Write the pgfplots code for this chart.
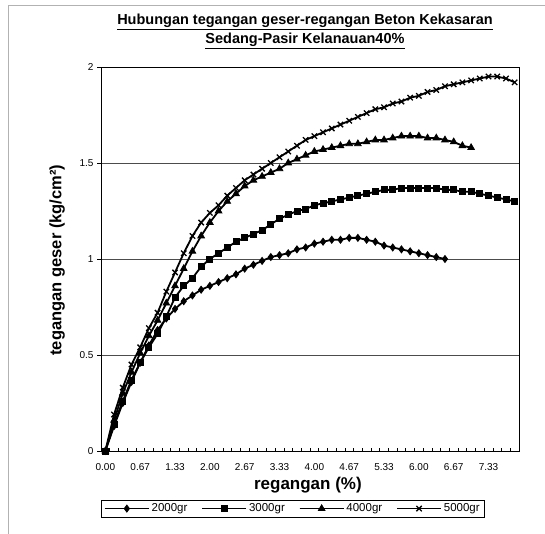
\documentclass[border=0pt]{standalone}
\usepackage{pgfplots}
\pgfplotsset{compat=1.18}
\usepackage{fontspec}
\setmainfont{Liberation Sans}

\begin{document}
\begin{tikzpicture}

\begin{axis}[
  scale only axis, width=418pt, height=384pt,
  xmin=-0.5, xmax=47.5, ymin=0, ymax=2,
  xtick={0,4,...,44},
  xticklabels={0.00,0.67,1.33,2.00,2.67,3.33,4.00,4.67,5.33,6.00,6.67,7.33},
  minor xtick={-0.5,0.5,...,47.5},
  major x tick style={draw=none},
  minor tick length=3pt,
  xtick pos=bottom, xtick align=inside,
  ytick={0,0.5,1,1.5,2},
  yticklabels={0,0.5,1,1.5,2},
  ytick pos=left, ytick align=outside, major tick length=4pt,
  ymajorgrids, grid style={black!70, line width=0.5pt},
  axis line style={black, line width=0.9pt},
  tick style={black, line width=0.6pt},
  tick label style={font=\fontsize{10}{11}\selectfont},
  xticklabel style={yshift=-9pt},
  xlabel={\textbf{regangan (\%)}},
  xlabel style={font=\fontsize{17}{19}\selectfont, at={(axis description cs:0.495,-0.0885)}, anchor=center},
  ylabel={\textbf{tegangan geser (kg/cm²)}},
  ylabel style={font=\fontsize{16.5}{18}\selectfont, at={(axis description cs:-0.105,0.497)}, anchor=center},
  title={\textbf{\underline{Hubungan tegangan geser-regangan Beton Kekasaran}}\\\textbf{\underline{Sedang-Pasir Kelanauan40\%}}},
  title style={font=\fontsize{14.5}{19}\selectfont, align=center, at={(axis description cs:0.488,1.077)}, anchor=center},
  legend columns=4,
  legend style={at={(axis description cs:0.459,-0.150)}, anchor=center, draw=black, line width=0.6pt,
    font=\fontsize{11.5}{12}\selectfont, inner xsep=3pt, inner ysep=2pt,
    /tikz/every even column/.append style={column sep=12pt}},
  legend image code/.code={
    \draw[#1, line width=1.6pt] (0pt,0pt) -- (44pt,0pt);
    \draw[#1, line width=1.6pt, mark repeat=2, mark phase=2] plot coordinates {(0pt,0pt) (22pt,0pt) (44pt,0pt)};
  },
  every axis plot/.append style={black, line width=1.8pt, mark size=3.5pt,
    mark options={solid, fill=black, line width=0.8pt}},
]
\coordinate (O) at (rel axis cs:0,0);
% 2000gr
\addplot[mark=diamond*] coordinates {
(0,0) (1,0.13) (2,0.25) (3,0.36) (4,0.46) (5,0.55) (6,0.63) (7,0.69) (8,0.74) (9,0.78)
(10,0.81) (11,0.84) (12,0.86) (13,0.88) (14,0.90) (15,0.92) (16,0.95) (17,0.97) (18,0.99) (19,1.01)
(20,1.02) (21,1.03) (22,1.05) (23,1.06) (24,1.08) (25,1.09) (26,1.10) (27,1.10) (28,1.11) (29,1.11)
(30,1.10) (31,1.09) (32,1.07) (33,1.06) (34,1.05) (35,1.04) (36,1.03) (37,1.02) (38,1.01) (39,1.00)
};
\addlegendentry{2000gr}
% 3000gr
\addplot[mark=square*, mark size=3pt] coordinates {
(0,0) (1,0.14) (2,0.26) (3,0.37) (4,0.46) (5,0.54) (6,0.61) (7,0.70) (8,0.80) (9,0.86)
(10,0.90) (11,0.96) (12,1.00) (13,1.03) (14,1.06) (15,1.09) (16,1.11) (17,1.13) (18,1.15) (19,1.18)
(20,1.21) (21,1.23) (22,1.25) (23,1.26) (24,1.28) (25,1.29) (26,1.30) (27,1.31) (28,1.32) (29,1.33)
(30,1.34) (31,1.35) (32,1.36) (33,1.36) (34,1.37) (35,1.37) (36,1.37) (37,1.37) (38,1.37) (39,1.36)
(40,1.36) (41,1.35) (42,1.35) (43,1.34) (44,1.33) (45,1.32) (46,1.31) (47,1.30)
};
\addlegendentry{3000gr}
% 4000gr
\addplot[mark=triangle*, mark size=3.8pt] coordinates {
(0,0) (1,0.16) (2,0.30) (3,0.41) (4,0.51) (5,0.60) (6,0.68) (7,0.77) (8,0.86) (9,0.95)
(10,1.04) (11,1.12) (12,1.19) (13,1.25) (14,1.30) (15,1.34) (16,1.38) (17,1.41) (18,1.43) (19,1.45)
(20,1.47) (21,1.50) (22,1.52) (23,1.54) (24,1.56) (25,1.57) (26,1.58) (27,1.59) (28,1.60) (29,1.60)
(30,1.61) (31,1.62) (32,1.62) (33,1.63) (34,1.64) (35,1.64) (36,1.64) (37,1.63) (38,1.63) (39,1.62)
(40,1.61) (41,1.59) (42,1.58)
};
\addlegendentry{4000gr}
% 5000gr
\addplot[mark=x, mark size=3.8pt, mark options={line width=1.3pt}] coordinates {
(0,0) (1,0.19) (2,0.33) (3,0.45) (4,0.54) (5,0.64) (6,0.72) (7,0.83) (8,0.93) (9,1.03)
(10,1.12) (11,1.19) (12,1.24) (13,1.28) (14,1.33) (15,1.37) (16,1.41) (17,1.44) (18,1.47) (19,1.50)
(20,1.53) (21,1.56) (22,1.59) (23,1.62) (24,1.64) (25,1.66) (26,1.68) (27,1.70) (28,1.72) (29,1.74)
(30,1.76) (31,1.78) (32,1.79) (33,1.81) (34,1.82) (35,1.84) (36,1.85) (37,1.87) (38,1.88) (39,1.90)
(40,1.91) (41,1.92) (42,1.93) (43,1.94) (44,1.95) (45,1.95) (46,1.94) (47,1.92)
};
\addlegendentry{5000gr}
\end{axis}

\pgfresetboundingbox
\useasboundingbox ([shift={(-101pt,-83pt)}]O) rectangle ([shift={(444pt,451pt)}]O);
\draw[gray!60, line width=0.8pt] ([shift={(-93pt,-83pt)}]O) -- ([shift={(-93pt,446pt)}]O) -- ([shift={(444pt,446pt)}]O);
\end{tikzpicture}
\end{document}
